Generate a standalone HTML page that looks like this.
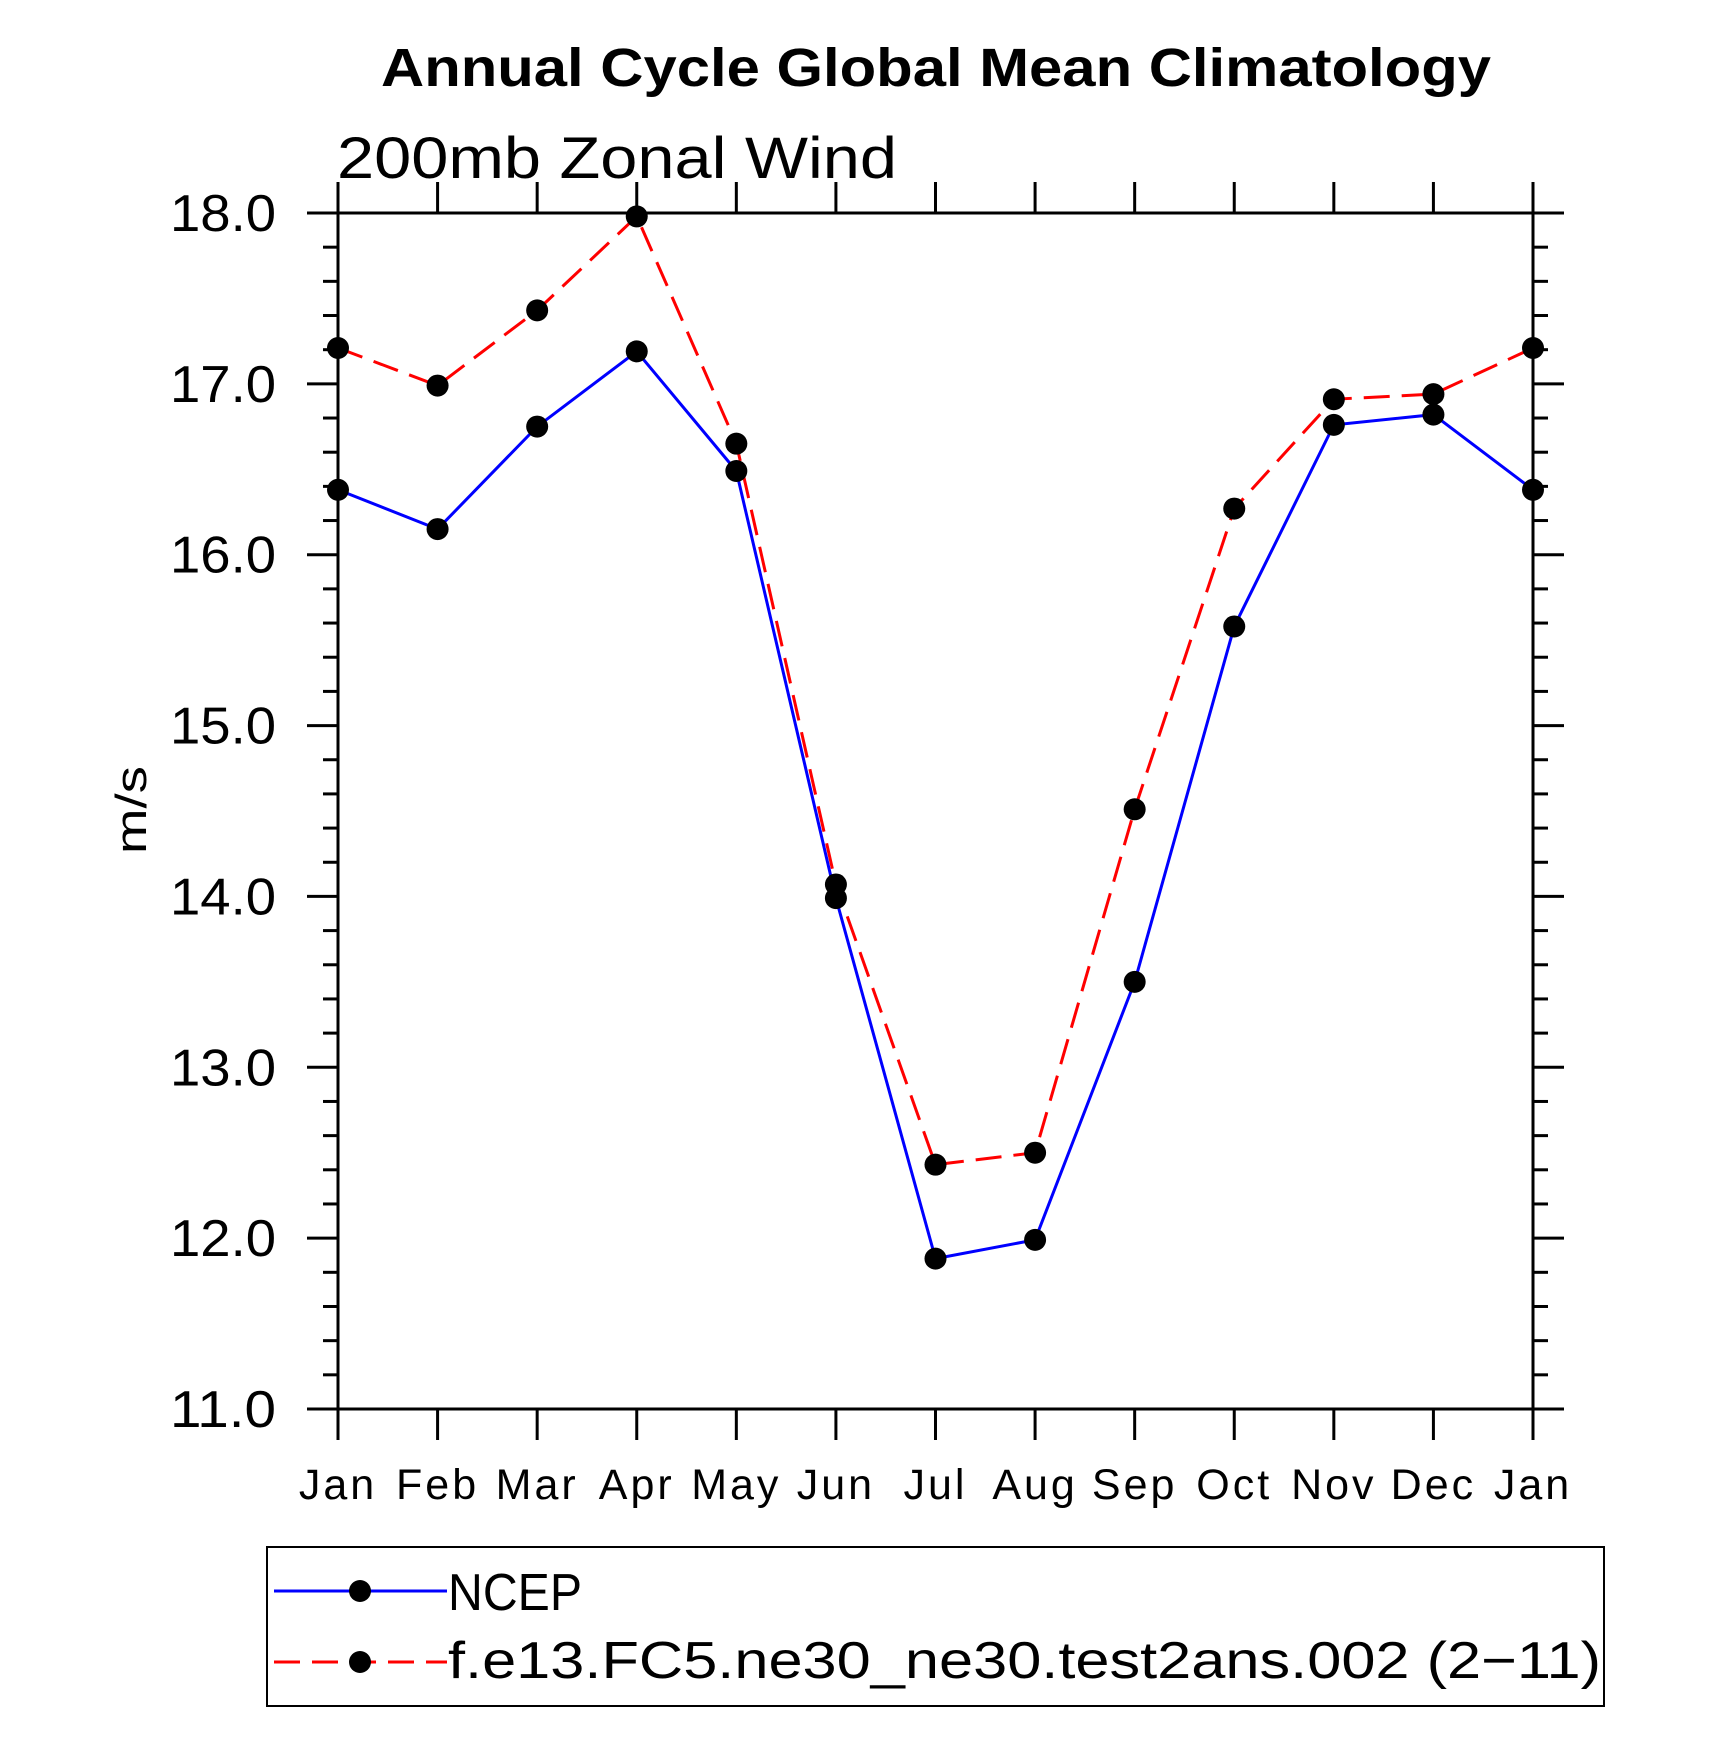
<!DOCTYPE html>
<html><head><meta charset="utf-8"><style>
html,body{margin:0;padding:0;background:#fff;}
svg{display:block;}
text{font-family:"Liberation Sans",sans-serif;fill:#000;}
</style></head><body>
<svg id="chart" width="1710" height="1747" viewBox="0 0 1710 1747" xmlns="http://www.w3.org/2000/svg">
<text x="936" y="86" text-anchor="middle" font-size="54" font-weight="bold" textLength="1110" lengthAdjust="spacingAndGlyphs">Annual Cycle Global Mean Climatology</text>
<text x="337" y="178" font-size="58" textLength="560" lengthAdjust="spacingAndGlyphs">200mb  Zonal  Wind</text>
<text transform="translate(146,810) rotate(-90)" text-anchor="middle" font-size="44" textLength="88" lengthAdjust="spacingAndGlyphs">m/s</text>
<g id="axes"></g>
<g id="series"></g>
<g>
<rect x="267" y="1547" width="1337" height="159" fill="none" stroke="#000" stroke-width="2"/>
<line x1="274" y1="1591" x2="447" y2="1591" stroke="#0000ff" stroke-width="3"/>
<circle cx="360" cy="1591" r="11" fill="#000"/>
<text x="448" y="1610" font-size="52" textLength="134" lengthAdjust="spacingAndGlyphs">NCEP</text>
<line x1="274" y1="1662" x2="447" y2="1662" stroke="#ff0000" stroke-width="3" stroke-dasharray="26,12"/>
<circle cx="360" cy="1662" r="11" fill="#000"/>
<text x="448" y="1678" font-size="52" textLength="1153" lengthAdjust="spacingAndGlyphs">f.e13.FC5.ne30_ne30.test2ans.002 (2−11)</text>
</g>
</svg>
<script>
const months = ["Jan","Feb","Mar","Apr","May","Jun","Jul","Aug","Sep","Oct","Nov","Dec","Jan"];
const ncepValues = [16.38,16.15,16.75,17.19,16.49,13.99,11.88,11.99,13.50,15.58,16.76,16.82,16.38];
const modelValues = [17.21,16.99,17.43,17.98,16.65,14.07,12.43,12.50,14.51,16.27,16.91,16.94,17.21];
const yTickLabels = ["11.0","12.0","13.0","14.0","15.0","16.0","17.0","18.0"];
const yMin = 11, yMax = 18;

const NS = "http://www.w3.org/2000/svg";
const L = 338, R = 1533, T = 213, B = 1409;
function xScale(i){ return L + i*(R-L)/(months.length-1); }
function yScale(v){ return B - (v-yMin)/(yMax-yMin)*(B-T); }
function mk(tag, attrs, parent){
  const e = document.createElementNS(NS, tag);
  for (const k in attrs) e.setAttribute(k, attrs[k]);
  parent.appendChild(e); return e;
}
const axes = document.getElementById("axes");
const series = document.getElementById("series");
const frame = mk("rect",{x:L,y:T,width:R-L,height:B-T,fill:"none",stroke:"#000","stroke-width":3},axes);


months.forEach((m,i)=>{
  const x = xScale(i);
  const t1 = mk("line",{x1:x,y1:T,x2:x,y2:T-31,stroke:"#000","stroke-width":3},axes);
  
  
  const t2 = mk("line",{x1:x,y1:B,x2:x,y2:B+31,stroke:"#000","stroke-width":3},axes);
  
  
  const lb = mk("text",{x:x,y:1499,"text-anchor":"middle","font-size":43,"letter-spacing":3},axes);
  lb.textContent = m;
  
  
});
for (let k=0;k<=(yMax-yMin)*5;k++){
  const v = yMin + k*0.2;
  const y = yScale(v);
  const major = k%5===0;
  const len = major?31:15;
  const a = mk("line",{x1:L,y1:y,x2:L-len,y2:y,stroke:"#000","stroke-width":3},axes);
  
  
  const b = mk("line",{x1:R,y1:y,x2:R+len,y2:y,stroke:"#000","stroke-width":3},axes);
  
  
}
yTickLabels.forEach((s)=>{
  const y = yScale(parseFloat(s));
  const lb = mk("text",{x:276,y:y+18,"text-anchor":"end","font-size":52,textLength:106,lengthAdjust:"spacingAndGlyphs"},axes);
  lb.textContent = s;
  
  
});
function drawSeries(vals, color, dash, name){
  const pts = vals.map((v,i)=>xScale(i)+","+yScale(v)).join(" ");
  const pl = mk("polyline",{points:pts,fill:"none",stroke:color,"stroke-width":3},series);
  if (dash) pl.setAttribute("stroke-dasharray", dash);
  
  
}
drawSeries(modelValues,"#ff0000","26,12","model");
drawSeries(ncepValues,"#0000ff",null,"ncep");
function drawMarkers(vals, name){
  vals.forEach((v,i)=>{
    const c = mk("circle",{cx:xScale(i),cy:yScale(v),r:11,fill:"#000"},series);
    
    
  });
}
drawMarkers(modelValues,"model");
drawMarkers(ncepValues,"ncep");
</script>
</body></html>
